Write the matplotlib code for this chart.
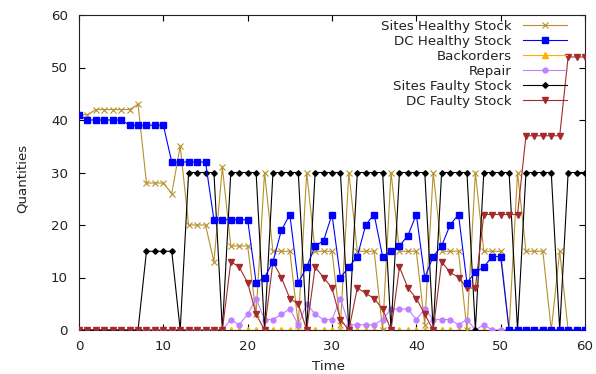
import matplotlib
matplotlib.use("Agg")
import matplotlib.pyplot as plt
from matplotlib.ticker import MultipleLocator

time = list(range(0, 61))

sites_healthy = [41, 41, 42, 42, 42, 42, 42, 43, 28, 28, 28, 26, 35, 20, 20, 20, 13, 31, 16, 16,
                 16, 3, 30, 15, 15, 15, 1, 30, 15, 15, 15, 1, 30, 15, 15, 15, 0, 30, 15, 15,
                 15, 1, 30, 15, 15, 15, 0, 30, 15, 15, 15, 0, 30, 15, 15, 15, 0, 15, 0, 0, 0]
dc_healthy = [41, 40, 40, 40, 40, 40, 39, 39, 39, 39, 39, 32, 32, 32, 32, 32, 21, 21, 21, 21,
              21, 9, 10, 13, 19, 22, 9, 12, 16, 17, 22, 10, 12, 14, 20, 22, 14, 15, 16, 18,
              22, 10, 14, 16, 20, 22, 9, 11, 12, 14, 14, 0, 0, 0, 0, 0, 0, 0, 0, 0, 0]
backorders = [0, 0, 0, 0, 0, 0, 0, 0, 0, 0, 0, 0, 0, 0, 0, 0, 0, 0, 0, 0,
              0, 0, 0, 0, 0, 0, 0, 0, 0, 0, 0, 0, 0, 0, 0, 0, 0, 0, 0, 0,
              0, 0, 0, 0, 0, 0, 0, 0, 0, 0, 0, 0, 0, 0, 0, 0, 0, 0, 0, 0, 0]
repair = [0, 0, 0, 0, 0, 0, 0, 0, 0, 0, 0, 0, 0, 0, 0, 0, 0, 0, 2, 1,
          3, 6, 2, 2, 3, 4, 1, 5, 3, 2, 2, 6, 1, 1, 1, 1, 2, 4, 4, 4,
          2, 4, 2, 2, 2, 1, 2, 0, 1, 0, 0, 0, 0, 0, 0, 0, 0, 0, 0, 0, 0]
sites_faulty = [0, 0, 0, 0, 0, 0, 0, 0, 15, 15, 15, 15, 0, 30, 30, 30, 30, 0, 30, 30,
                30, 30, 0, 30, 30, 30, 30, 0, 30, 30, 30, 30, 0, 30, 30, 30, 30, 0, 30, 30,
                30, 30, 0, 30, 30, 30, 30, 0, 30, 30, 30, 30, 0, 30, 30, 30, 30, 0, 30, 30, 30]
dc_faulty = [0, 0, 0, 0, 0, 0, 0, 0, 0, 0, 0, 0, 0, 0, 0, 0, 0, 0, 13, 12,
             9, 3, 0, 13, 10, 6, 5, 0, 12, 10, 8, 2, 0, 8, 7, 6, 4, 0, 12, 8,
             6, 3, 0, 13, 11, 10, 8, 8, 22, 22, 22, 22, 22, 37, 37, 37, 37, 37, 52, 52, 52]

plt.rcParams['font.family'] = ['DejaVu Sans']
FS = 9.6
TC = '#222222'

fig = plt.figure(figsize=(5.96, 3.74), dpi=100)
ax = fig.add_axes([79 / 596, 1 - 330 / 374, (585 - 79) / 596, (330 - 15) / 374])

lw = 0.8
ax.plot(time, sites_healthy, color='#b8902a', lw=lw, marker='x', ms=5, mew=0.8,
        label='Sites Healthy Stock', zorder=3)
ax.plot(time, dc_healthy, color='#0000ff', lw=lw, marker='s', ms=4.5,
        label='DC Healthy Stock', zorder=4)
ax.plot(time, backorders, color='#ffb000', lw=lw, marker='^', ms=4.5,
        label='Backorders', zorder=2)
ax.plot(time, repair, color='#c080ff', lw=lw, marker='o', ms=3.5,
        label='Repair', zorder=3)
ax.plot(time, sites_faulty, color='#000000', lw=lw, marker='D', ms=2.8,
        label='Sites Faulty Stock', zorder=3)
ax.plot(time, dc_faulty, color='#a52a2a', lw=lw, marker='v', ms=5,
        label='DC Faulty Stock', zorder=3)

ax.set_xlim(0, 60)
ax.set_ylim(0, 60)
ax.xaxis.set_major_locator(MultipleLocator(10))
ax.yaxis.set_major_locator(MultipleLocator(10))
ax.tick_params(direction='in', top=True, right=True, length=4, labelsize=FS,
               labelcolor=TC)
ax.tick_params(axis='y', pad=8)
ax.tick_params(axis='x', pad=7)
for s in ax.spines.values():
    s.set_linewidth(0.8)
    s.set_color('#222222')
ax.set_xlabel('Time', fontsize=FS, color=TC)
ax.set_ylabel('Quantities', fontsize=FS, color=TC)
ax.xaxis.set_label_coords(0.494, -0.095)
ax.yaxis.set_label_coords(-0.100, 0.48)

leg = ax.legend(loc='upper right', bbox_to_anchor=(0.9644, 0.985), frameon=False,
                markerfirst=False, fontsize=FS, handlelength=3.3,
                handletextpad=0.83, labelspacing=0.15, borderaxespad=0,
                borderpad=0)
for t in leg.get_texts():
    t.set_color(TC)

fig.savefig('out.png', dpi=100)
